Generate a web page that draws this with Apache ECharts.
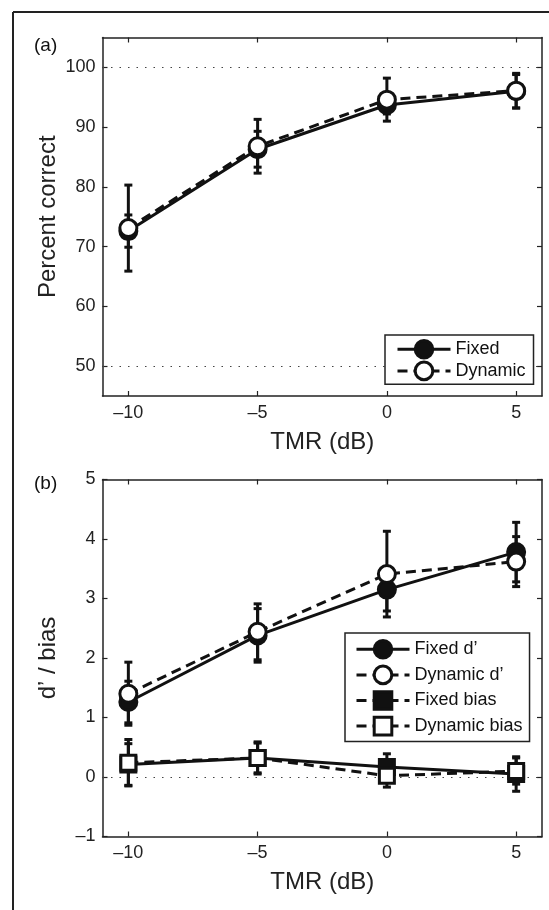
<!DOCTYPE html>
<html>
<head>
<meta charset="utf-8">
<script src="https://cdn.jsdelivr.net/npm/echarts@6/dist/echarts.min.js"></script>
<style>
html, body { margin: 0; padding: 0; background: #fff; }
#chart { width: 549px; height: 910px; }
</style>
</head>
<body>
<div id="chart"></div>
<script>
// data
var tmr = [-10, -5, 0, 5];
var xTicks = [-10, -5, 0, 5];
var pcTicks = [50, 60, 70, 80, 90, 100];
var dTicks = [-1, 0, 1, 2, 3, 4, 5];
var pcRefLines = [50, 100];
var dRefLines = [0];

var fixedPC = [72.6, 86.3, 93.7, 96.0];
var fixedPCErr = [2.7, 3.0, 1.5, 2.8];
var dynamicPC = [73.1, 86.8, 94.6, 96.1];
var dynamicPCErr = [7.2, 4.5, 3.6, 2.9];

var fixedD = [1.26, 2.38, 3.15, 3.78];
var fixedDErr = [0.35, 0.45, 0.36, 0.5];
var dynamicD = [1.40, 2.44, 3.41, 3.62];
var dynamicDErr = [0.53, 0.47, 0.72, 0.42];

var fixedBias = [0.21, 0.32, 0.17, 0.05];
var fixedBiasErr = [0.35, 0.25, 0.22, 0.29];
var dynamicBias = [0.24, 0.32, 0.02, 0.10];
var dynamicBiasErr = [0.39, 0.27, 0.19, 0.22];

var ink = '#111';
var dash = [10, 6];
var font = '"Liberation Sans", Arial, Helvetica, sans-serif';

function pairs(xs, ys) {
	return xs.map(function (x, i) { return [x, ys[i]]; });
}
function bars(xs, ys, es) {
	return xs.map(function (x, i) { return [x, ys[i] - es[i], ys[i] + es[i]]; });
}
function minus(v) {
	return v < 0 ? '\u2013' + (-v) : String(v);
}

function renderErrorBar(params, api) {
	var x = api.value(0);
	var lo = api.coord([x, api.value(1)]);
	var hi = api.coord([x, api.value(2)]);
	var cap = 4;
	var style = { stroke: ink, lineWidth: 3 };
	return {
		type: 'group',
		children: [
			{ type: 'line', shape: { x1: lo[0], y1: lo[1], x2: hi[0], y2: hi[1] }, style: style },
			{ type: 'line', shape: { x1: lo[0] - cap, y1: lo[1], x2: lo[0] + cap, y2: lo[1] }, style: style },
			{ type: 'line', shape: { x1: hi[0] - cap, y1: hi[1], x2: hi[0] + cap, y2: hi[1] }, style: style }
		]
	};
}

function errSeries(name, xi, yi, data, refLines) {
	var s = {
		name: name,
		type: 'custom',
		xAxisIndex: xi,
		yAxisIndex: yi,
		renderItem: renderErrorBar,
		encode: { x: 0, y: [1, 2] },
		data: data,
		z: 1,
		silent: true
	};
	if (refLines) {
		s.markLine = {
			silent: true,
			z: 1,
			symbol: 'none',
			label: { show: false },
			lineStyle: { color: '#444', type: [1.5, 7], width: 1.2 },
			data: refLines.map(function (v) { return { yAxis: v }; })
		};
	}
	return s;
}

function lineSeries(name, xi, yi, data, filled, dashed, symbol, size) {
	return {
		name: name,
		type: 'line',
		xAxisIndex: xi,
		yAxisIndex: yi,
		data: data,
		symbol: symbol,
		symbolSize: size,
		showSymbol: true,
		z: 3,
		itemStyle: { color: filled ? ink : '#fff', borderColor: ink, borderWidth: 3 },
		lineStyle: { color: ink, width: 3, type: dashed ? dash : 'solid' },
		emphasis: { disabled: true }
	};
}

function xAx(grid, pos, named) {
	return {
		gridIndex: grid,
		type: 'value',
		position: pos,
		min: -11,
		max: 6,
		axisLine: { show: true, onZero: false, lineStyle: { color: '#222', width: 1.5 } },
		axisTick: { show: true, inside: true, length: 5, customValues: xTicks, lineStyle: { color: '#222', width: 1.2 } },
		axisLabel: { show: named, customValues: xTicks, formatter: minus, margin: 8, fontSize: 18, color: '#222', fontFamily: font },
		splitLine: { show: false },
		name: named ? 'TMR (dB)' : '',
		nameLocation: 'middle',
		nameGap: 34,
		nameMoveOverlap: false,
		nameTextStyle: { fontSize: 24, color: '#222', fontFamily: font }
	};
}

function yAx(grid, pos, min, max, ticks, name) {
	return {
		gridIndex: grid,
		type: 'value',
		position: pos,
		min: min,
		max: max,
		axisLine: { show: true, onZero: false, lineStyle: { color: '#222', width: 1.5 } },
		axisTick: { show: true, inside: true, length: 5, customValues: ticks, lineStyle: { color: '#222', width: 1.2 } },
		axisLabel: { show: !!name, customValues: ticks, formatter: minus, margin: 7, fontSize: 18, color: '#222', fontFamily: font },
		splitLine: { show: false },
		name: name || '',
		nameLocation: 'middle',
		nameGap: 42,
		nameMoveOverlap: false,
		nameTextStyle: { fontSize: 24, color: '#222', fontFamily: font }
	};
}

var legendBase = {
	orient: 'vertical',
	itemWidth: 53,
	itemHeight: 22,
	borderColor: '#222',
	borderWidth: 1.5,
	backgroundColor: '#fff',
	selectedMode: false,
	textStyle: { fontSize: 18, color: ink, fontFamily: font },
	itemStyle: { borderWidth: 3 },
	lineStyle: { width: 3 }
};

var dom = document.getElementById('chart');
var myChart = echarts.init(dom, null, { renderer: 'canvas' });
var option = {
	animation: false,
	backgroundColor: '#fff',
	textStyle: { fontFamily: font },
	title: [
		{ text: '(a)', left: 34, top: 36, padding: 0, textStyle: { fontSize: 19, fontWeight: 'normal', color: ink, fontFamily: font } },
		{ text: '(b)', left: 34, top: 474, padding: 0, textStyle: { fontSize: 19, fontWeight: 'normal', color: ink, fontFamily: font } }
	],
	graphic: [
		{ type: 'line', shape: { x1: 13, y1: 12, x2: 549, y2: 12 }, style: { stroke: '#222', lineWidth: 2 } },
		{ type: 'line', shape: { x1: 13, y1: 12, x2: 13, y2: 910 }, style: { stroke: '#222', lineWidth: 2 } }
	],
	grid: [
		{ left: 102.5, top: 37.5, right: 7, bottom: 514, containLabel: false },
		{ left: 102.5, top: 479.5, right: 7, bottom: 73.5, containLabel: false }
	],
	legend: [
		Object.assign({}, legendBase, {
			data: ['Fixed', 'Dynamic'],
			left: 385, top: 335, itemGap: 1,
			padding: [4, 8, 3, 11]
		}),
		Object.assign({}, legendBase, {
			data: ['Fixed d\u2019', 'Dynamic d\u2019', { name: 'Fixed bias', lineStyle: { type: dash } }, 'Dynamic bias'],
			left: 345, top: 633, itemGap: 5,
			padding: [6, 7, 5, 10]
		})
	],
	xAxis: [
		xAx(0, 'bottom', true),
		xAx(0, 'top', false),
		xAx(1, 'bottom', true),
		xAx(1, 'top', false)
	],
	yAxis: [
		yAx(0, 'left', 45, 105, pcTicks, 'Percent correct'),
		yAx(0, 'right', 45, 105, pcTicks, ''),
		yAx(1, 'left', -1, 5, dTicks, 'd\u2019 / bias'),
		yAx(1, 'right', -1, 5, dTicks, '')
	],
	series: [
		// panel (a)
		errSeries('errFixed', 0, 0, bars(tmr, fixedPC, fixedPCErr), pcRefLines),
		errSeries('errDynamic', 0, 0, bars(tmr, dynamicPC, dynamicPCErr)),
		lineSeries('Fixed', 0, 0, pairs(tmr, fixedPC), true, false, 'circle', 17),
		lineSeries('Dynamic', 0, 0, pairs(tmr, dynamicPC), false, true, 'circle', 17),
		// panel (b)
		errSeries('errFixedD', 2, 2, bars(tmr, fixedD, fixedDErr), dRefLines),
		errSeries('errDynamicD', 2, 2, bars(tmr, dynamicD, dynamicDErr)),
		errSeries('errFixedBias', 2, 2, bars(tmr, fixedBias, fixedBiasErr)),
		errSeries('errDynamicBias', 2, 2, bars(tmr, dynamicBias, dynamicBiasErr)),
		lineSeries('Fixed d\u2019', 2, 2, pairs(tmr, fixedD), true, false, 'circle', 17),
		lineSeries('Dynamic d\u2019', 2, 2, pairs(tmr, dynamicD), false, true, 'circle', 17),
		lineSeries('Fixed bias', 2, 2, pairs(tmr, fixedBias), true, false, 'rect', 15),
		lineSeries('Dynamic bias', 2, 2, pairs(tmr, dynamicBias), false, true, 'rect', 15)
	]
};
if (option && typeof option === "object") {
	myChart.setOption(option, true);
}
window.onresize = function () {
	myChart.resize();
};
</script>
</body>
</html>
